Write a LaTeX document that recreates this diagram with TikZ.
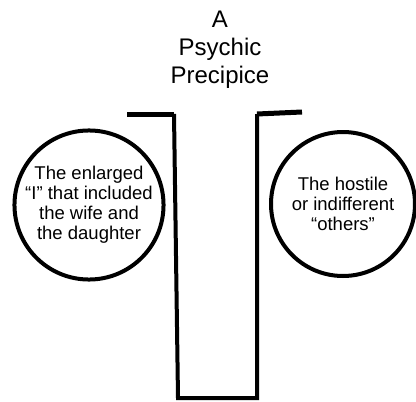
\documentclass[tikz,border=0pt]{standalone}
\usepackage{fontspec}
\setmainfont{Liberation Sans}
\usetikzlibrary{positioning}

\begin{document}
\begin{tikzpicture}[
    x=1pt, y=-1pt,
    title/.style={align=center, font=\fontsize{24}{28}\selectfont},
    mind/.style={draw, circle, line width=4pt, minimum size=144pt, inner sep=0pt, align=center, font=\fontsize{18.5}{20}\selectfont},
    wall/.style={line width=4pt, line join=miter},
    ledge/.style={line width=5pt}
]
\useasboundingbox (0,0) rectangle (416,402);
\node[title] (head) at (220,50) {A\\Psychic\\Precipice};
\node[mind] (self) at (89,205) {The enlarged\\``I'' that included\\the wife and\\the daughter};
\node[mind] (others) at (343,204) {The hostile\\or indifferent\\``others''};
% the precipice
\coordinate (ltip) at (127,114);
\coordinate (ltop) at (174,114);
\coordinate (lbot) at (178,398);
\coordinate (rbot) at (257,398);
\coordinate (rtop) at (257,114);
\coordinate (rtip) at (302,112);
\draw[ledge] (ltip) -- (ltop);
\draw[ledge] (rtop) -- (rtip);
\draw[wall] (ltop) -- (lbot) -- (rbot) -- (rtop);
\end{tikzpicture}
\end{document}
